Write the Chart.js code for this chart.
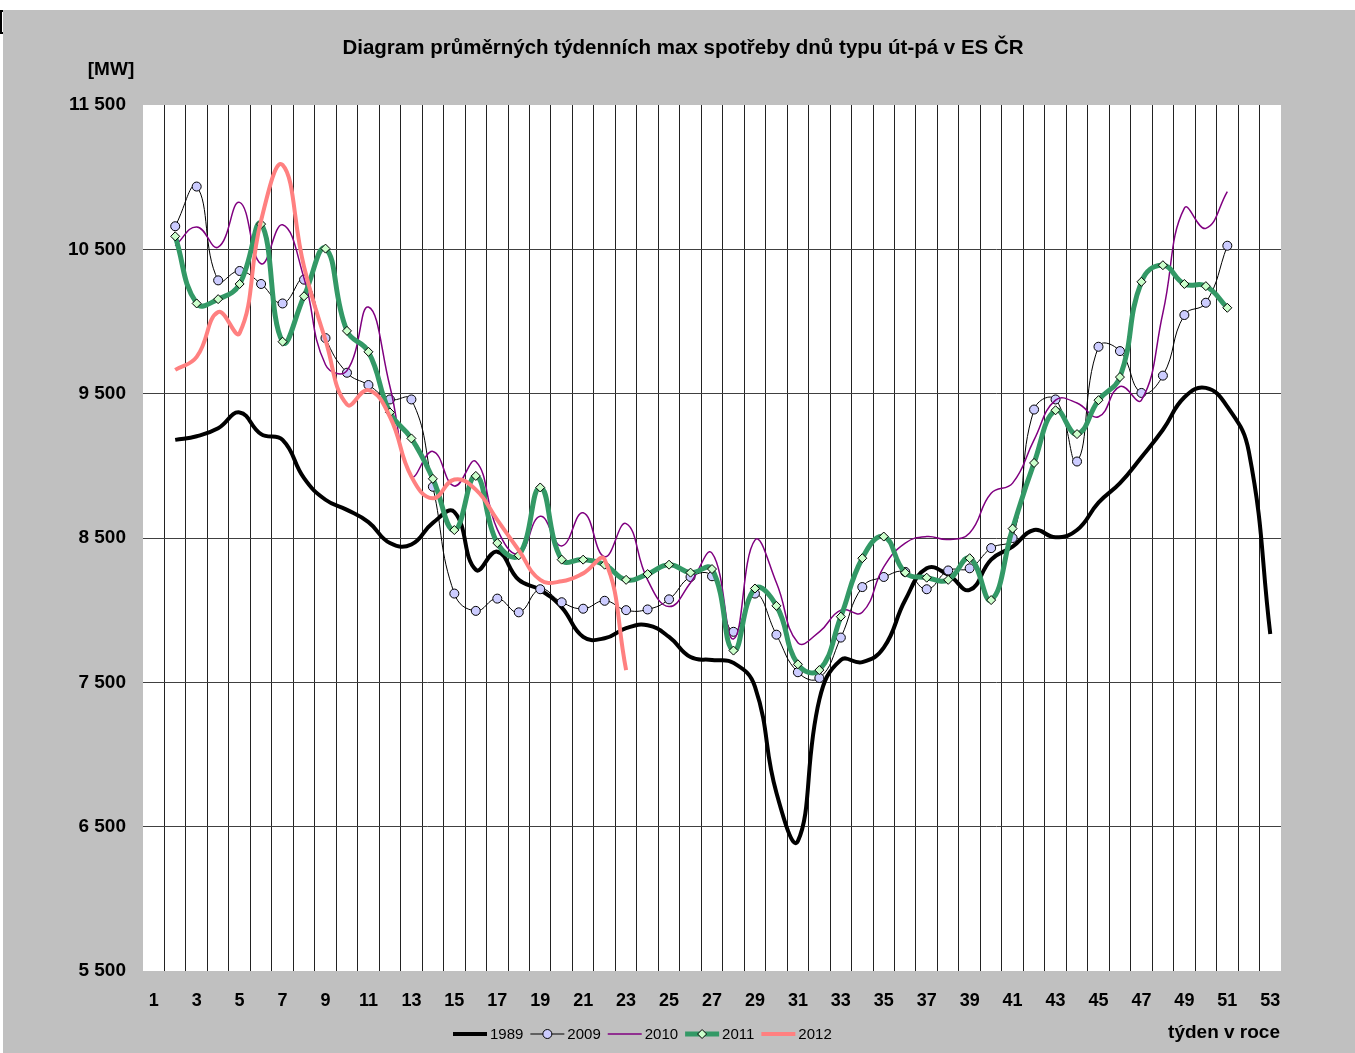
<!DOCTYPE html>
<html>
<head>
<meta charset="utf-8">
<script src="https://cdn.jsdelivr.net/npm/chart.js@4.4.1/dist/chart.umd.min.js"></script>
<style>
  body { margin: 0; background: #fff; }
  #frame { position: absolute; left: 3px; top: 10px; width: 1352px; height: 1043px; background: #c0c0c0; }
  #mark { position: absolute; left: 0; top: 10px; width: 2px; height: 20px; border: 2px solid #000; border-right: none; }
</style>
</head>
<body>
<div id="mark"></div>
<div id="frame"><canvas id="chart" width="1352" height="1043"></canvas></div>
<script>
const FONT = '"Liberation Sans", Arial, sans-serif';

const weeks = [1, 2, 3, 4, 5, 6, 7, 8, 9, 10, 11, 12, 13, 14, 15, 16, 17, 18, 19, 20,
  21, 22, 23, 24, 25, 26, 27, 28, 29, 30, 31, 32, 33, 34, 35, 36, 37, 38, 39, 40,
  41, 42, 43, 44, 45, 46, 47, 48, 49, 50, 51, 52, 53];

// weekly values, index 0 = week 1
const y1989 = [null, 9180, 9205, 9260, 9370, 9220, 9180, 8915, 8765, 8695, 8610, 8465, 8455, 8605,
  8680, 8280, 8405, 8210, 8140, 8020, 7815, 7805, 7875, 7895, 7815, 7675, 7655, 7635, 7470, 6735,
  6400, 7380, 7655, 7640, 7740, 8070, 8290, 8245, 8140, 8350, 8440, 8555, 8505, 8555, 8745, 8880,
  9060, 9250, 9475, 9540, 9410, 9100, 7835];
const y2009 = [null, 10660, 10935, 10285, 10350, 10260, 10125, 10290, 9885, 9645, 9560, 9460, 9460,
  8855, 8115, 7995, 8080, 7985, 8145, 8055, 8010, 8065, 8000, 8005, 8075, 8230, 8235, 7850, 8115,
  7830, 7570, 7530, 7810, 8160, 8230, 8265, 8145, 8275, 8290, 8430, 8500, 9390, 9460, 9030, 9825,
  9795, 9505, 9625, 10045, 10130, 10525, null, null];
const y2010 = [null, 10525, 10655, 10515, 10825, 10400, 10670, 10300, 9700, 9660, 10100, 9550, 8930,
  9100, 8860, 9030, 8560, 8390, 8650, 8445, 8675, 8370, 8600, 8210, 8025, 8190, 8395, 7800, 8485,
  8190, 7775, 7850, 8000, 7985, 8300, 8465, 8510, 8490, 8535, 8810, 8880, 9180, 9455, 9435, 9340,
  9550, 9455, 10060, 10785, 10645, 10900, null, null];
const y2011 = [null, 10590, 10125, 10155, 10260, 10675, 9860, 10175, 10505, 9935, 9790, 9370, 9190,
  8910, 8555, 8930, 8465, 8380, 8850, 8350, 8350, 8315, 8210, 8250, 8315, 8260, 8285, 7720, 8150,
  8030, 7625, 7585, 7955, 8360, 8510, 8260, 8225, 8210, 8360, 8070, 8565, 9020, 9385, 9220, 9455,
  9615, 10275, 10390, 10260, 10245, 10095, null, null];
const y2012 = [null, 9665, 9755, 10065, 9920, 10700, 11085, 10380, 9870, 9425, 9525, 9340, 8925,
  8775, 8905, 8835, 8625, 8415, 8210, 8200, 8255, 8350, 7585, null, null, null, null, null, null,
  null, null, null, null, null, null, null, null, null, null, null, null, null, null, null, null,
  null, null, null, null, null, null, null, null];

const yTicks = [5500, 6500, 7500, 8500, 9500, 10500, 11500];

const fmt = (v) => String(v).replace(/\B(?=(\d{3})+(?!\d))/g, ' ');

// white plot area
const plotBg = {
  id: 'plotBg',
  beforeDraw(chart) {
    const a = chart.chartArea;
    chart.ctx.save();
    chart.ctx.fillStyle = '#ffffff';
    chart.ctx.fillRect(a.left, a.top, a.right - a.left, a.bottom - a.top);
    chart.ctx.restore();
  }
};

// title, axis captions and the legend
const decorations = {
  id: 'decorations',
  afterDraw(chart) {
    const ctx = chart.ctx;
    ctx.save();
    ctx.fillStyle = '#000';
    ctx.textBaseline = 'middle';
    ctx.font = 'bold 20.5px ' + FONT;
    ctx.textAlign = 'center';
    ctx.fillText('Diagram průměrných týdenních max spotřeby dnů typu út-pá v ES ČR', 680, 38);
    ctx.font = 'bold 19px ' + FONT;
    ctx.fillText('[MW]', 108, 60);
    ctx.textAlign = 'right';
    ctx.fillText('týden v roce', 1277, 1023);

    ctx.font = '15px ' + FONT;
    ctx.textAlign = 'left';
    let x = 450;
    const y = 1024;
    chart.data.datasets.forEach((ds) => {
      ctx.strokeStyle = ds.borderColor;
      ctx.lineWidth = ds.borderWidth;
      ctx.beginPath();
      ctx.moveTo(x, y);
      ctx.lineTo(x + 34, y);
      ctx.stroke();
      if (ds.pointRadius > 0) {
        ctx.fillStyle = ds.pointBackgroundColor;
        ctx.strokeStyle = ds.pointBorderColor;
        ctx.lineWidth = ds.pointBorderWidth;
        Chart.helpers.drawPoint(ctx, {
          pointStyle: ds.pointStyle, radius: ds.pointRadius, rotation: 0,
          borderWidth: ds.pointBorderWidth
        }, x + 17, y);
      }
      ctx.fillStyle = '#000';
      ctx.fillText(ds.label, x + 37, y + 1);
      x += 37 + ctx.measureText(ds.label).width + 7;
    });
    ctx.restore();
  }
};

const series = (label, data, color, width, extra) => Object.assign({
  label, data,
  borderColor: color,
  borderWidth: width,
  pointRadius: 0,
  tension: 0.45,
  fill: false
}, extra);

new Chart(document.getElementById('chart'), {
  type: 'line',
  data: {
    labels: weeks,
    datasets: [
      series('1989', y1989, '#000000', 4, { order: 5 }),
      series('2009', y2009, '#000000', 1, {
        order: 4, pointStyle: 'circle', pointRadius: 4.5,
        pointBackgroundColor: '#ccccff', pointBorderColor: '#000', pointBorderWidth: 1
      }),
      series('2010', y2010, '#800080', 1.5, { order: 3 }),
      series('2011', y2011, '#339966', 5, {
        order: 2, pointStyle: 'rectRot', pointRadius: 4.5,
        pointBackgroundColor: '#ccffcc', pointBorderColor: '#000', pointBorderWidth: 1
      }),
      series('2012', y2012, '#ff8080', 4, { order: 1 })
    ]
  },
  options: {
    responsive: false,
    animation: false,
    layout: { padding: { top: 95, right: 74, bottom: 0, left: 0 } },
    plugins: {
      legend: { display: false },
      title: { display: false },
      tooltip: { enabled: false }
    },
    scales: {
      x: {
        type: 'category',
        offset: true,
        border: { display: false },
        grid: {
          offset: true,
          drawTicks: false,
          lineWidth: 1,
          color: (c) => (c.index === 0 || c.index === undefined ? 'rgba(0,0,0,0)' : '#222')
        },
        ticks: {
          autoSkip: false,
          maxRotation: 0,
          padding: 19,
          color: '#000',
          font: { family: FONT, size: 18, weight: 'bold' },
          callback: (v, i) => (weeks[i] % 2 === 1 ? String(weeks[i]) : '')
        },
        afterFit: (s) => { s.height = 82; }
      },
      y: {
        min: yTicks[0],
        max: yTicks[yTicks.length - 1],
        border: { display: false },
        afterBuildTicks: (s) => { s.ticks = yTicks.map((v) => ({ value: v })); },
        grid: {
          drawTicks: false,
          color: (c) => (c.tick && (c.tick.value === 5500 || c.tick.value === 11500) ? 'rgba(0,0,0,0)' : '#404040')
        },
        ticks: {
          padding: 17,
          color: '#000',
          font: { family: FONT, size: 19, weight: 'bold' },
          callback: (v) => fmt(v)
        },
        afterFit: (s) => { s.width = 140; }
      }
    }
  },
  plugins: [plotBg, decorations]
});
</script>
</body>
</html>
